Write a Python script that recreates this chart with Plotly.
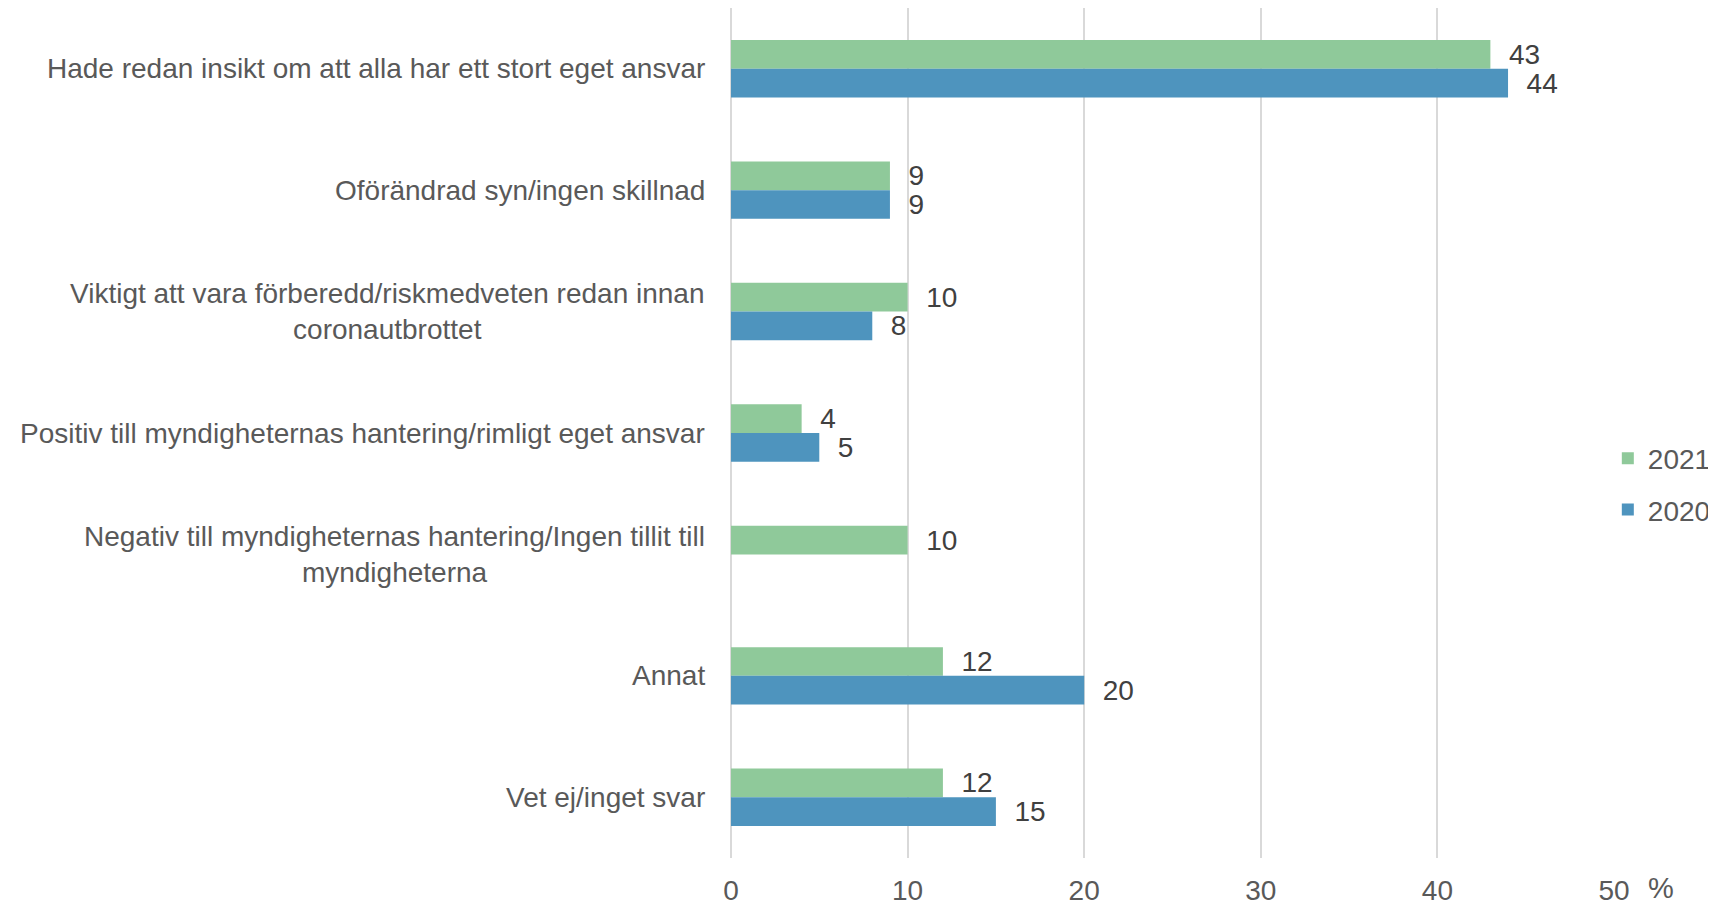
import plotly.graph_objects as go

categories = [
    "Hade redan insikt om att alla har ett stort eget ansvar",
    "Oförändrad syn/ingen skillnad",
    "Viktigt att vara förberedd/riskmedveten redan innan<br>coronautbrottet",
    "Positiv till myndigheternas hantering/rimligt eget ansvar",
    "Negativ till myndigheternas hantering/Ingen tillit till<br>myndigheterna",
    "Annat",
    "Vet ej/inget svar",
]
cat_ids = ["c1", "c2", "c3", "c4", "c5", "c6", "c7"]
values_2021 = [43, 9, 10, 4, 10, 12, 12]
values_2020 = [44, 9, 8, 5, None, 20, 15]
x_ticks = [0, 10, 20, 30, 40, 50]

NARROW = "Liberation Sans Narrow, Arial Narrow, Liberation Sans, sans-serif"
REG = "Liberation Sans, Arial, sans-serif"

fig = go.Figure()
for name, vals, color in [("2021", values_2021, "#8FC99A"), ("2020", values_2020, "#4E94BE")]:
    fig.add_trace(go.Bar(
        y=cat_ids, x=vals, name=name, orientation="h", legendgroup=name,
        marker=dict(color=color, line=dict(width=0)),
        texttemplate="\u00a0\u00a0%{x}", textposition="outside",
        textfont=dict(family=REG, size=28, color="#404040"),
        constraintext="none", cliponaxis=False,
    ))

for cid, label in zip(cat_ids, categories):
    fig.add_annotation(
        x=0, xref="paper", y=cid, yref="y", text=label, showarrow=False,
        xanchor="right", yanchor="middle", xshift=-24, align="center",
        font=dict(family=NARROW, size=28, color="#595959"),
    )

fig.add_annotation(
    x=1.053, xref="paper", y=-0.035, yref="paper", text="%", showarrow=False,
    xanchor="center", yanchor="middle",
    font=dict(family=NARROW, size=29, color="#595959"),
)

fig.update_layout(
    width=1708, height=897,
    margin=dict(l=723, r=102, t=0, b=47, autoexpand=False),
    paper_bgcolor="white", plot_bgcolor="white",
    barmode="group", bargap=0.527, bargroupgap=0,
    showlegend=True,
    legend=dict(
        x=0.993, xanchor="left", y=0.44, yanchor="middle",
        bgcolor="rgba(0,0,0,0)",
        font=dict(family=REG, size=28, color="#595959"),
        itemwidth=30, traceorder="grouped", tracegroupgap=12,
    ),
    xaxis=dict(
        range=[0, 50], tickvals=x_ticks, showgrid=True, gridcolor="#D9D9D9", gridwidth=2,
        zeroline=True, zerolinecolor="#D9D9D9", zerolinewidth=2, showline=False, ticks="",
        tickfont=dict(family=NARROW, size=28, color="#595959"),
        ticklabelstandoff=13,
    ),
    yaxis=dict(
        categoryorder="array", categoryarray=cat_ids, autorange="reversed",
        showticklabels=False, showgrid=False, zeroline=False, showline=False, ticks="",
    ),
)

fig.write_html("out.html")
